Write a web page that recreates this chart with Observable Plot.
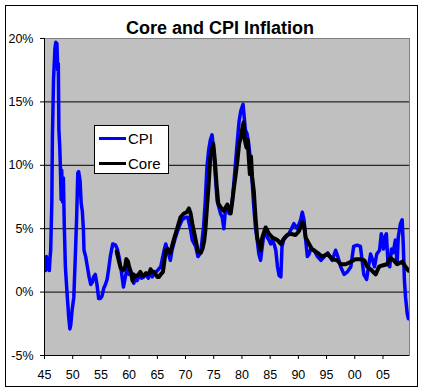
<!DOCTYPE html>
<html>
<head>
<meta charset="utf-8">
<script src="https://cdn.jsdelivr.net/npm/d3@7"></script>
<script src="https://cdn.jsdelivr.net/npm/@observablehq/plot@0.6"></script>
<style>
  html, body { margin: 0; padding: 0; background: #fff; }
  body { font-family: "Liberation Sans", Arial, sans-serif; }
  #wrap { position: relative; width: 424px; height: 392px; }
  #border { position: absolute; left: 5px; top: 5px; width: 413px; height: 382px; border: 1px solid #000; box-sizing: border-box; pointer-events: none; }
  #legend { position: absolute; left: 94px; top: 125px; width: 75px; height: 49px; background: #fff; border: 1px solid #000; box-sizing: border-box; font-size: 15px; color: #000; }
  .row { position: absolute; left: 4px; height: 18px; display: flex; align-items: center; white-space: nowrap; }
  .sw { width: 27px; height: 3px; margin-right: 2px; }
</style>
</head>
<body>
<div id="wrap">
  <div id="chart"></div>
  <div id="legend"></div>
  <div id="border"></div>
</div>
<script>
const titleText = "Core and CPI Inflation";
const seriesNames = ["CPI", "Core"];
const seriesColors = ["#0000ff", "#000000"];

const cpiYears = [
  1945.0,1945.2,1945.35,1945.5,1945.7,1945.85,1946.0,1946.1,1946.3,1946.4,1946.6,1946.85,1947.0,1947.2,1947.35,1947.45,1947.55,1947.7,1947.8,1947.95,
  1948.05,1948.2,1948.35,1948.5,1948.7,1949.0,1949.3,1949.5,1949.65,1949.9,1950.2,1950.5,1950.7,1950.9,1951.05,1951.3,1951.5,1951.7,1951.9,1952.0,
  1952.3,1952.6,1952.9,1953.2,1953.5,1953.7,1954.0,1954.3,1954.6,1954.9,1955.2,1955.5,1955.8,1956.1,1956.4,1956.7,1957.1,1957.6,1957.9,1958.2,
  1958.6,1959.0,1959.2,1959.7,1960.0,1960.3,1960.6,1960.8,1961.1,1961.4,1961.8,1962.2,1962.6,1963.0,1963.4,1963.8,1964.1,1964.4,1965.0,1965.6,
  1966.2,1966.5,1966.8,1967.3,1967.6,1968.2,1968.8,1969.4,1970.0,1970.4,1970.9,1971.2,1971.8,1972.2,1972.7,1973.2,1973.5,1973.8,1974.1,1974.4,
  1974.7,1975.0,1975.3,1975.6,1975.9,1976.2,1976.5,1976.8,1977.1,1977.4,1977.7,1978.0,1978.3,1978.6,1978.9,1979.2,1979.5,1979.8,1980.1,1980.2,
  1980.4,1980.6,1980.9,1981.2,1981.5,1981.8,1982.1,1982.4,1982.7,1983.0,1983.3,1983.6,1983.9,1984.2,1984.5,1984.8,1985.1,1985.4,1985.7,1986.0,
  1986.3,1986.6,1986.9,1987.1,1987.4,1987.7,1988.3,1988.9,1989.2,1989.5,1989.8,1990.4,1990.7,1991.0,1991.3,1991.6,1991.9,1992.2,1992.8,1993.4,
  1994.0,1994.6,1995.2,1995.6,1996.0,1996.6,1997.0,1997.5,1998.1,1998.7,1999.3,1999.8,2000.4,2001.0,2001.3,2001.6,2002.1,2002.5,2002.8,2003.1,
  2003.5,2003.9,2004.4,2004.7,2005.1,2005.3,2005.6,2005.9,2006.2,2006.5,2006.8,2007.2,2007.5,2007.7,2008.1,2008.4,2008.6,2008.8,2009.0,2009.3,2009.5
];
const cpiValues = [
  2.2,1.7,2.8,1.8,2.6,1.7,2.8,3.3,7.1,12.2,16.7,19.2,19.7,19.6,17.5,18.0,12.8,11.5,10.1,7.3,
  9.6,7.1,9.0,5.4,2.0,-0.1,-2.0,-2.9,-2.6,-1.4,-0.4,3.3,5.9,9.4,9.5,8.8,7.0,6.4,4.9,3.3,
  2.8,2.0,1.2,0.6,0.8,1.2,1.4,0.6,-0.5,-0.5,-0.3,0.3,0.6,1.0,1.9,2.9,3.8,3.7,3.4,2.8,
  1.7,0.4,0.9,2.0,1.4,1.6,1.2,0.7,1.0,0.9,1.3,1.1,1.2,1.4,1.1,1.7,1.2,1.4,1.7,2.0,
  3.3,3.8,3.3,2.5,3.3,4.3,5.1,5.7,5.9,5.9,4.9,4.1,3.6,2.8,3.1,5.2,7.2,9.9,11.2,12.0,
  12.4,11.2,9.1,7.2,6.7,6.2,5.9,5.0,6.7,6.9,6.2,6.4,7.2,8.8,10.4,12.0,13.5,14.3,14.7,14.8,
  13.8,12.8,12.5,11.7,10.4,8.8,6.7,5.1,4.1,3.0,2.5,3.6,4.6,4.9,4.3,4.1,3.8,4.1,3.8,3.3,
  2.0,1.3,1.2,3.6,4.1,4.3,4.6,5.1,5.4,5.2,5.0,5.7,6.3,5.7,4.1,2.8,3.0,3.4,3.3,2.8,
  2.5,2.8,3.1,2.8,2.5,3.3,2.8,2.0,1.4,1.6,2.0,3.6,3.7,3.6,2.5,1.4,1.0,2.2,3.0,2.6,
  2.0,3.0,3.3,4.6,3.4,4.3,4.6,2.2,2.0,3.4,3.1,4.1,2.2,4.3,5.4,5.7,3.7,0.9,-0.4,-1.7,-2.1
];

const coreYears = [
  1957.8,1958.1,1958.5,1958.9,1959.3,1959.5,1959.8,1960.0,1960.3,1960.6,1960.8,1961.1,1961.4,1961.7,1962.0,1962.3,1962.6,1963.0,1963.2,1963.6,
  1963.8,1964.1,1964.4,1965.0,1965.3,1965.6,1966.0,1966.5,1966.8,1967.3,1967.9,1968.5,1969.1,1969.7,1970.2,1970.6,1970.9,1971.2,1971.8,1972.2,
  1972.7,1973.0,1973.3,1973.5,1973.8,1974.1,1974.4,1974.9,1975.2,1975.5,1975.8,1976.2,1976.8,1977.4,1978.0,1978.3,1978.6,1978.9,1979.2,1979.5,
  1979.8,1980.1,1980.3,1980.5,1980.8,1981.0,1981.4,1981.6,1981.8,1982.1,1982.4,1982.7,1983.0,1983.3,1983.6,1984.2,1984.8,1985.4,1986.3,1986.9,
  1987.4,1988.0,1988.6,1989.5,1990.1,1990.7,1991.0,1991.3,1991.9,1992.4,1993.4,1994.2,1995.2,1996.0,1996.9,1997.5,1998.4,1999.3,2000.1,2001.0,
  2001.7,2002.2,2002.8,2003.7,2004.3,2004.9,2005.7,2006.3,2006.9,2007.5,2008.4,2009.0,2009.5
];
const coreValues = [
  3.2,2.6,1.9,1.7,2.0,2.6,2.4,2.0,1.6,0.9,1.4,1.2,1.3,1.4,1.6,1.3,1.3,1.5,1.4,1.5,
  1.8,1.6,1.6,1.2,1.2,1.4,1.6,3.3,3.4,3.1,4.1,5.0,5.9,6.2,6.3,6.6,6.2,5.4,4.1,3.2,
  3.1,3.4,4.0,4.8,6.7,8.5,10.7,11.7,10.4,8.5,7.0,6.7,6.4,6.9,6.2,7.2,8.3,9.3,10.4,11.7,
  12.2,13.0,13.4,12.0,11.4,12.0,9.3,10.7,9.1,8.0,5.9,4.3,3.8,3.3,4.3,5.1,4.6,4.3,4.1,3.8,
  4.2,4.5,4.6,4.5,4.8,5.5,5.3,4.3,3.8,3.4,3.1,2.8,3.0,2.6,2.5,2.2,2.2,2.4,2.6,2.6,
  2.5,2.0,1.8,1.4,2.0,2.1,2.2,2.7,2.5,2.2,2.4,2.0,1.7
];

const xTicks = [1945,1950,1955,1960,1965,1970,1975,1980,1985,1990,1995,2000,2005];
const yTicks = [-5,0,5,10,15,20];
const gridLines = [0,5,10,15];

const cpi = cpiYears.map((year, i) => ({year, value: cpiValues[i]}));
const core = coreYears.map((year, i) => ({year, value: coreValues[i]}));

const font = "Liberation Sans, Arial, sans-serif";

const chart = Plot.plot({
  width: 424,
  height: 392,
  marginLeft: 44,
  marginRight: 15,
  marginTop: 38,
  marginBottom: 37,
  style: {fontFamily: font, fontSize: "12.5px", color: "#000", background: "transparent", overflow: "visible"},
  x: {domain: [1945, 2009.7], ticks: xTicks, tickFormat: d => String(d % 100).padStart(2, "0"), tickSize: 4, tickPadding: 11, label: null},
  y: {domain: [-5, 20], ticks: yTicks, tickFormat: d => d + "%", tickSize: 4, tickPadding: 7, label: null},
  marks: [
    Plot.frame({fill: "#c0c0c0"}),
    Plot.ruleY(gridLines, {stroke: "#000", strokeWidth: 1}),
    Plot.frame({stroke: "#808080"}),
    Plot.lineY(cpi, {x: "year", y: "value", stroke: seriesColors[0], strokeWidth: 3.5, strokeLinejoin: "round", clip: true}),
    Plot.lineY(core, {x: "year", y: "value", stroke: seriesColors[1], strokeWidth: 4, strokeLinejoin: "round", clip: true}),
    Plot.ruleX([1945], {stroke: "#000"}),
    Plot.ruleY([-5], {stroke: "#000"}),
    Plot.text([titleText], {text: d => d, frameAnchor: "top", dy: -17, dx: -7, fontWeight: "bold", fontSize: 18, fill: "#000"})
  ]
});
document.getElementById("chart").appendChild(chart);

const legend = document.getElementById("legend");
seriesNames.forEach((name, i) => {
  const row = document.createElement("div");
  row.className = "row";
  row.style.top = (i === 0 ? 3 : 28) + "px";
  const sw = document.createElement("div");
  sw.className = "sw";
  sw.style.background = seriesColors[i];
  const label = document.createElement("span");
  label.textContent = name;
  row.appendChild(sw);
  row.appendChild(label);
  legend.appendChild(row);
});
</script>
</body>
</html>
